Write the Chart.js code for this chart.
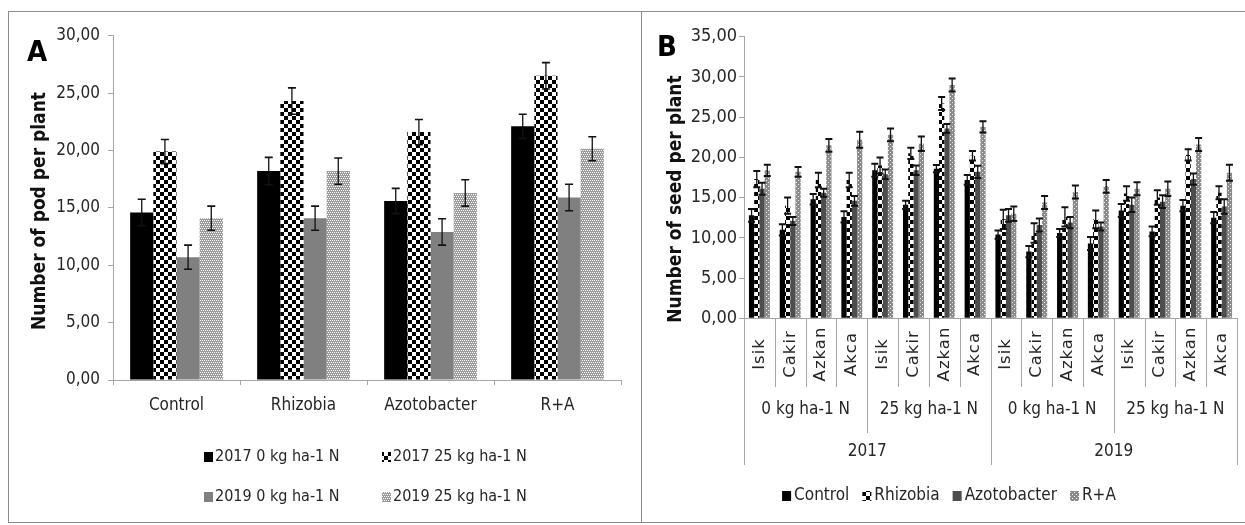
<!DOCTYPE html>
<html>
<head>
<meta charset="utf-8">
<script src="https://cdn.jsdelivr.net/npm/chart.js@4.4.1/dist/chart.umd.min.js"></script>
<style>
  html, body { margin: 0; padding: 0; background: #fff; }
  body { width: 1245px; height: 525px; position: relative; overflow: hidden; }
  #frame { position: absolute; left: 8px; top: 11px; width: 1260px; height: 512px; border: 1px solid #8c8c8c; box-sizing: border-box; }
  #sep { position: absolute; left: 641px; top: 11px; width: 1px; height: 512px; background: #8c8c8c; }
  #podChart { position: absolute; left: 0; top: 0; }
  #seedChart { position: absolute; left: 642px; top: 0; }
</style>
</head>
<body>
<div id="frame"></div>
<div id="sep"></div>
<canvas id="podChart" width="641" height="525"></canvas>
<canvas id="seedChart" width="603" height="525"></canvas>
<script>
// ---------- Panel A: pods per plant ----------
const podCategories = ['Control', 'Rhizobia', 'Azotobacter', 'R+A'];
const podSeriesNames = ['2017 0 kg ha-1 N', '2017 25 kg ha-1 N', '2019 0 kg ha-1 N', '2019 25 kg ha-1 N'];
const pod2017N0  = [14.6, 18.2, 15.6, 22.1];
const pod2017N25 = [19.9, 24.3, 21.6, 26.5];
const pod2019N0  = [10.7, 14.1, 12.9, 15.9];
const pod2019N25 = [14.1, 18.2, 16.3, 20.15];
const pod2017N0Err  = [1.15, 1.2, 1.1, 1.05];
const pod2017N25Err = [1.05, 1.15, 1.1, 1.15];
const pod2019N0Err  = [1.05, 1.05, 1.15, 1.15];
const pod2019N25Err = [1.05, 1.15, 1.15, 1.05];
const podTickLabels = ['0,00', '5,00', '10,00', '15,00', '20,00', '25,00', '30,00'];

// ---------- Panel B: seeds per plant ----------
const varieties = ['Isik', 'Cakir', 'Azkan', 'Akca'];
const nLevels = ['0 kg ha-1 N', '25 kg ha-1 N'];
const years = ['2017', '2019'];
const seedSeriesNames = ['Control', 'Rhizobia', 'Azotobacter', 'R+A'];
const seedControl     = [12.8, 11.0, 14.8, 12.6, 18.4, 14.1, 18.6, 17.2, 10.4, 8.3, 10.6, 9.3, 13.4, 10.8, 14.0, 12.5];
const seedRhizobia    = [17.3, 14.0, 17.2, 17.2, 19.0, 20.5, 26.7, 20.2, 12.3, 10.6, 12.6, 12.3, 15.5, 15.0, 20.3, 15.6];
const seedAzotobacter = [16.1, 12.1, 15.6, 14.6, 17.9, 18.4, 23.6, 18.2, 12.8, 11.6, 11.9, 11.4, 14.1, 14.5, 17.3, 13.9];
const seedRA          = [18.4, 18.2, 21.5, 22.2, 22.8, 21.7, 29.0, 23.8, 13.0, 14.4, 15.7, 16.4, 16.1, 16.1, 21.6, 18.1];
const seedControlErr     = [0.8, 0.7, 0.65, 0.7, 0.8, 0.5, 0.45, 0.6, 0.5, 0.7, 0.5, 0.8, 0.8, 0.6, 0.7, 0.7];
const seedRhizobiaErr    = [1.0, 1.0, 0.9, 0.9, 1.0, 0.7, 0.8, 0.6, 1.2, 1.2, 1.2, 1.1, 0.9, 0.9, 0.7, 0.8];
const seedAzotobacterErr = [0.75, 0.5, 0.5, 0.6, 0.6, 0.6, 0.55, 0.75, 0.8, 0.8, 0.7, 0.5, 0.9, 0.8, 0.7, 0.9];
const seedRAErr          = [0.7, 0.6, 0.8, 1.0, 0.8, 0.9, 0.8, 0.7, 0.9, 0.8, 0.8, 0.8, 0.8, 0.9, 0.8, 1.0];
const seedTickLabels = ['0,00', '5,00', '10,00', '15,00', '20,00', '25,00', '30,00', '35,00'];

// ---------- shared styling ----------
const FONT = "'DejaVu Sans Condensed', 'Liberation Sans Narrow', 'DejaVu Sans', sans-serif";
const WIDE_FONT = "'DejaVu Sans', Verdana, sans-serif";
const TXT = '#262626';
const AXIS = '#a6a6a6';

function tile(size, paint) {
  const c = document.createElement('canvas');
  c.width = c.height = size;
  const g = c.getContext('2d');
  paint(g);
  return g.createPattern(c, 'repeat');
}
const checker = tile(8, g => {
  g.fillStyle = '#fff'; g.fillRect(0, 0, 8, 8);
  g.fillStyle = '#000'; g.fillRect(0, 0, 4, 4); g.fillRect(4, 4, 4, 4);
});
const lightMesh = tile(4, g => {
  g.fillStyle = '#9c9c9c'; g.fillRect(0, 0, 4, 4);
  g.fillStyle = '#fff';
  [[0, 0], [2, 0], [1, 2], [3, 2]].forEach(([x, y]) => g.fillRect(x, y, 1, 1));
});
const darkMesh = tile(4, g => {
  g.fillStyle = '#8a8a8a'; g.fillRect(0, 0, 4, 4);
  g.fillStyle = '#f0f0f0';
  [[0, 0], [2, 2]].forEach(([x, y]) => g.fillRect(x, y, 1, 1));
});

// symmetric error bars with caps, read from dataset.errors
const errorBars = {
  id: 'errorBars',
  afterDatasetsDraw(chart, args, opts) {
    const { ctx } = chart;
    const y = chart.scales.y;
    chart.data.datasets.forEach((ds, i) => {
      chart.getDatasetMeta(i).data.forEach((bar, j) => {
        const v = ds.data[j], e = ds.errors[j];
        const yt = y.getPixelForValue(v + e), yb = y.getPixelForValue(v - e);
        ctx.save();
        ctx.strokeStyle = '#111';
        ctx.lineWidth = opts.width;
        ctx.beginPath();
        ctx.moveTo(bar.x, yt); ctx.lineTo(bar.x, yb);
        ctx.stroke();
        ctx.lineWidth = opts.capWidth;
        ctx.beginPath();
        ctx.moveTo(bar.x - opts.cap, yt); ctx.lineTo(bar.x + opts.cap, yt);
        ctx.moveTo(bar.x - opts.cap, yb); ctx.lineTo(bar.x + opts.cap, yb);
        ctx.stroke();
        ctx.restore();
      });
    });
  }
};

function rotatedText(ctx, text, x, y, font) {
  ctx.save();
  ctx.translate(x, y);
  ctx.rotate(-Math.PI / 2);
  ctx.font = font;
  ctx.textAlign = 'center';
  ctx.textBaseline = 'middle';
  ctx.fillText(text, 0, 0);
  ctx.restore();
}

// panel letter, axis title and two-row legend for the pod chart
const podDecor = {
  id: 'podDecor',
  afterDraw(chart) {
    const { ctx } = chart;
    ctx.save();
    ctx.fillStyle = '#000';
    ctx.font = "bold 29px " + FONT;
    ctx.textBaseline = 'alphabetic';
    ctx.fillText('A', 27, 61);
    ctx.fillStyle = '#111';
    rotatedText(ctx, 'Number of pod per plant', 40, 211, "bold 19px " + FONT);

    ctx.font = "16px " + FONT;
    ctx.textBaseline = 'middle';
    const cols = [204, 382], rows = [457, 497];
    chart.data.datasets.forEach((ds, i) => {
      const x = cols[i % 2], y = rows[Math.floor(i / 2)];
      ctx.fillStyle = ds.backgroundColor;
      ctx.fillRect(x, y - 5, 9, 10);
      ctx.fillStyle = TXT;
      ctx.fillText(ds.label, x + 11, y);
    });
    ctx.restore();
  }
};

// panel letter, axis title, grouped category labels and legend for the seed chart
const seedDecor = {
  id: 'seedDecor',
  afterDraw(chart) {
    const { ctx } = chart;
    const xs = chart.scales.x;
    const n = chart.data.labels.length;
    const w = (xs.right - xs.left) / n;
    const base = xs.top;
    ctx.save();
    ctx.fillStyle = '#000';
    ctx.font = "bold 29px " + FONT;
    ctx.fillText('B', 15, 56);
    ctx.fillStyle = '#111';
    rotatedText(ctx, 'Number of seed per plant', 34, 199, "bold 19px " + FONT);

    // divider lines between categories, longer at group boundaries
    ctx.strokeStyle = AXIS;
    ctx.lineWidth = 1;
    const perN = varieties.length, perYear = varieties.length * nLevels.length;
    for (let k = 0; k <= n; k++) {
      const x = Math.round(xs.left + k * w) + 0.5;
      let end = 387;
      if (k % perYear === 0) end = 465;
      else if (k % perN === 0) end = 433;
      ctx.beginPath(); ctx.moveTo(x, base); ctx.lineTo(x, end); ctx.stroke();
    }
    // variety names
    ctx.fillStyle = TXT;
    chart.data.labels.forEach((lab, k) => {
      ctx.save();
      ctx.letterSpacing = '1px';
      rotatedText(ctx, lab, xs.left + (k + 0.5) * w, 354, "16.5px " + WIDE_FONT);
      ctx.restore();
    });
    // nitrogen levels and years
    ctx.font = "17px " + FONT;
    ctx.textAlign = 'center';
    ctx.textBaseline = 'middle';
    years.forEach((yr, yi) => {
      nLevels.forEach((nl, ni) => {
        const g = yi * nLevels.length + ni;
        ctx.fillText(nl, xs.left + (g + 0.5) * perN * w, 410);
      });
      ctx.fillText(yr, xs.left + (yi + 0.5) * perYear * w, 452);
    });
    // legend row
    ctx.textAlign = 'left';
    const items = chart.data.datasets.map(ds => ({ ds, tw: ctx.measureText(ds.label).width }));
    const sw = 9, gapIn = 3, gapOut = 13;
    const total = items.reduce((s, it) => s + sw + gapIn + it.tw, 0) + gapOut * (items.length - 1);
    let x = 949 - 642 - total / 2;
    items.forEach(it => {
      ctx.fillStyle = it.ds.backgroundColor;
      ctx.fillRect(x, 491, sw, 10);
      ctx.fillStyle = TXT;
      ctx.fillText(it.ds.label, x + sw + gapIn, 496);
      x += sw + gapIn + it.tw + gapOut;
    });
    ctx.restore();
  }
};

const podValues = [pod2017N0, pod2017N25, pod2019N0, pod2019N25];
const podErrors = [pod2017N0Err, pod2017N25Err, pod2019N0Err, pod2019N25Err];
const podFills = ['#000', checker, '#808080', lightMesh];

new Chart(document.getElementById('podChart'), {
  type: 'bar',
  data: {
    labels: podCategories,
    datasets: podSeriesNames.map((name, i) => ({
      label: name, data: podValues[i], errors: podErrors[i],
      backgroundColor: podFills[i], borderWidth: 0,
      categoryPercentage: 0.73, barPercentage: 1
    }))
  },
  options: {
    responsive: false,
    animation: false,
    layout: { padding: { top: 35.7, left: 0, right: 20, bottom: 85 } },
    plugins: { legend: { display: false }, tooltip: { enabled: false }, errorBars: { width: 1.3, capWidth: 1.6, cap: 4 } },
    scales: {
      x: {
        grid: { display: true, drawOnChartArea: false, tickLength: 5, color: AXIS },
        border: { color: AXIS },
        ticks: { font: { family: FONT, size: 17 }, color: TXT, padding: 10, maxRotation: 0 },
        afterFit(s) { s.height = 60; }
      },
      y: {
        min: 0, max: 30,
        ticks: { stepSize: 5, callback: (v, i) => podTickLabels[i], font: { family: FONT, size: 17 }, color: TXT, padding: 8 },
        grid: { drawOnChartArea: false, tickLength: 5, color: AXIS },
        border: { color: AXIS },
        afterFit(s) { s.width = 113; }
      }
    }
  },
  plugins: [errorBars, podDecor]
});

const seedLabels = years.flatMap(() => nLevels.flatMap(() => varieties));
const seedValues = [seedControl, seedRhizobia, seedAzotobacter, seedRA];
const seedErrors = [seedControlErr, seedRhizobiaErr, seedAzotobacterErr, seedRAErr];
const seedFills = ['#000', checker, '#4d4d4d', darkMesh];

new Chart(document.getElementById('seedChart'), {
  type: 'bar',
  data: {
    labels: seedLabels,
    datasets: seedSeriesNames.map((name, i) => ({
      label: name, data: seedValues[i], errors: seedErrors[i],
      backgroundColor: seedFills[i], borderWidth: 0,
      categoryPercentage: 0.68, barPercentage: 1
    }))
  },
  options: {
    responsive: false,
    animation: false,
    layout: { padding: { top: 36.7, left: 0, right: 8, bottom: 146.7 } },
    plugins: { legend: { display: false }, tooltip: { enabled: false }, errorBars: { width: 1.3, capWidth: 2, cap: 3.5 } },
    scales: {
      x: {
        ticks: { display: false },
        grid: { display: false },
        border: { color: AXIS },
        afterFit(s) { s.height = 60; }
      },
      y: {
        min: 0, max: 35,
        ticks: { stepSize: 5, callback: (v, i) => seedTickLabels[i], font: { family: FONT, size: 18 }, color: TXT, padding: 2 },
        grid: { drawOnChartArea: false, tickLength: 5, color: AXIS },
        border: { color: AXIS },
        afterFit(s) { s.width = 102; }
      }
    }
  },
  plugins: [errorBars, seedDecor]
});
</script>
</body>
</html>
